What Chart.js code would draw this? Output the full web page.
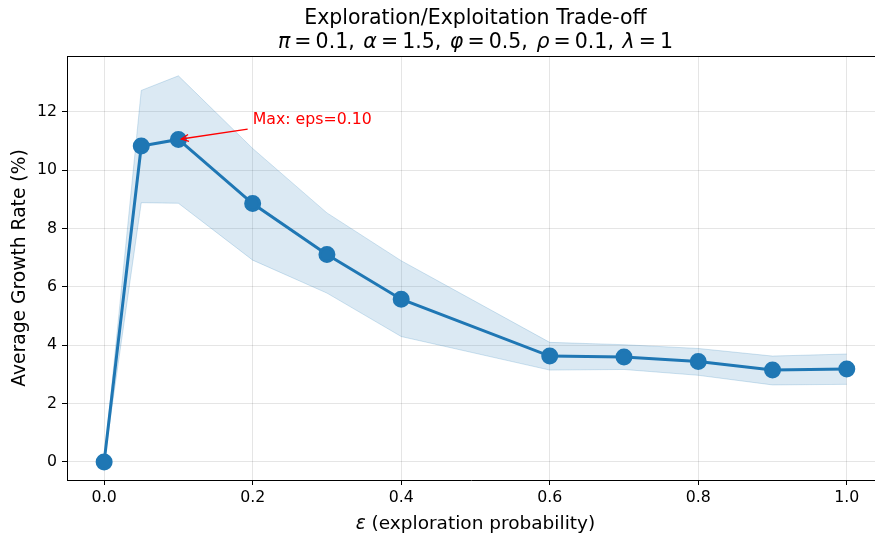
<!DOCTYPE html>
<html>
<head>
<meta charset="utf-8">
<script src="https://cdn.jsdelivr.net/npm/chart.js@4/dist/chart.umd.min.js"></script>
<style>
  body { margin: 0; background: #fff; }
  #wrap { width: 875px; height: 533px; }
</style>
</head>
<body>
<div id="wrap"><canvas id="myChart" width="875" height="533"></canvas></div>
<script>
// values
const epsValues = [0, 0.05, 0.1, 0.2, 0.3, 0.4, 0.6, 0.7, 0.8, 0.9, 1.0];
const growthMean = [0, 10.83, 11.06, 8.86, 7.11, 5.58, 3.63, 3.60, 3.44, 3.15, 3.19];
const growthUpper = [0, 12.74, 13.24, 10.75, 8.54, 6.90, 4.10, 4.02, 3.89, 3.63, 3.70];
const growthLower = [0, 8.89, 8.87, 6.92, 5.79, 4.30, 3.15, 3.17, 2.97, 2.64, 2.66];
const xTicks = [0, 0.2, 0.4, 0.6, 0.8, 1.0];
const yTicks = [0, 2, 4, 6, 8, 10, 12];
const maxEps = 0.1, maxGrowth = 11.06;

const FONT = "'DejaVu Sans', sans-serif";
const blue = '#1f77b4';
const TS = '\u2009';

function toPoints(ys) {
  return epsValues.map((e, i) => ({ x: e, y: ys[i] }));
}

// draws a line of text made of plain and italic pieces, centred at cx
function drawPieces(ctx, pieces, cx, y, size) {
  let total = 0;
  pieces.forEach(p => {
    ctx.font = (p[1] ? 'oblique ' : '') + size + 'px ' + FONT;
    total += ctx.measureText(p[0]).width;
  });
  let x = cx - total / 2;
  ctx.textAlign = 'left';
  pieces.forEach(p => {
    ctx.font = (p[1] ? 'oblique ' : '') + size + 'px ' + FONT;
    ctx.fillText(p[0], x, y);
    x += ctx.measureText(p[0]).width;
  });
}

const decor = {
  id: 'decor',
  afterDraw(chart) {
    const ctx = chart.ctx;
    const xs = chart.scales.x, ys = chart.scales.y;
    const area = chart.chartArea;
    ctx.save();
    // top spine
    ctx.strokeStyle = '#000';
    ctx.lineWidth = 1;
    ctx.beginPath();
    ctx.moveTo(area.left, area.top + 0.5);
    ctx.lineTo(area.right, area.top + 0.5);
    ctx.stroke();

    // titles
    const cx = xs.getPixelForValue(0.5);
    ctx.fillStyle = '#000';
    ctx.textBaseline = 'alphabetic';
    ctx.textAlign = 'center';
    ctx.font = '20.5px ' + FONT;
    ctx.fillText('Exploration/Exploitation Trade-off', cx, 24);
    const eq = TS + '=' + TS;
    const sep = ', \u200A';
    drawPieces(ctx, [
      ['π', true], [eq + '0.1' + sep, false],
      ['α', true], [eq + '1.5' + sep, false],
      ['φ', true], [eq + '0.5' + sep, false],
      ['ρ', true], [eq + '0.1' + sep, false],
      ['λ', true], [eq + '1', false]
    ], cx, 48, 20.5);

    // axis labels
    drawPieces(ctx, [['ε', true], [' (exploration probability)', false]], cx, 529, 18.5);
    ctx.save();
    ctx.translate(25, (area.top + area.bottom) / 2);
    ctx.rotate(-Math.PI / 2);
    ctx.textAlign = 'center';
    ctx.font = '18.7px ' + FONT;
    ctx.fillText('Average Growth Rate (%)', 0, 0);
    ctx.restore();

    // annotation with arrow
    const tx = xs.getPixelForValue(0.2), ty = ys.getPixelForValue(11.72);
    ctx.fillStyle = 'red';
    ctx.font = '15.75px ' + FONT;
    ctx.textAlign = 'left';
    ctx.textBaseline = 'middle';
    ctx.fillText('Max: eps=0.10', tx, ty);
    const px = xs.getPixelForValue(maxEps), py = ys.getPixelForValue(maxGrowth);
    const sx = tx - 5, sy = ty + 9;
    const ang = Math.atan2(sy - py, sx - px);
    const ex = px + Math.cos(ang) * 3, ey = py + Math.sin(ang) * 3;
    ctx.strokeStyle = 'red';
    ctx.lineWidth = 1.4;
    ctx.beginPath();
    ctx.moveTo(sx, sy);
    ctx.lineTo(ex, ey);
    ctx.stroke();
    ctx.beginPath();
    ctx.moveTo(ex + Math.cos(ang + 0.45) * 8, ey + Math.sin(ang + 0.45) * 8);
    ctx.lineTo(ex, ey);
    ctx.lineTo(ex + Math.cos(ang - 0.45) * 8, ey + Math.sin(ang - 0.45) * 8);
    ctx.stroke();
    ctx.restore();
  }
};

const data = {
  datasets: [
    {
      label: 'mean',
      data: toPoints(growthMean),
      borderColor: blue,
      backgroundColor: blue,
      borderWidth: 3,
      pointRadius: 7,
      pointHoverRadius: 7,
      pointBackgroundColor: blue,
      pointBorderColor: blue,
      fill: false,
      tension: 0
    },
    {
      label: 'upper',
      data: toPoints(growthUpper),
      borderColor: 'rgba(31,119,180,0.2)',
      backgroundColor: 'rgba(31,119,180,0.16)',
      borderWidth: 1,
      pointRadius: 0,
      fill: '+1',
      tension: 0
    },
    {
      label: 'lower',
      data: toPoints(growthLower),
      borderColor: 'rgba(31,119,180,0.2)',
      borderWidth: 1,
      pointRadius: 0,
      fill: false,
      tension: 0
    }
  ]
};

const config = {
  type: 'line',
  data: data,
  options: {
    responsive: false,
    animation: false,
    layout: { autoPadding: false, padding: { top: 56, left: 0, right: 0, bottom: 0 } },
    plugins: {
      legend: { display: false },
      tooltip: { enabled: false }
    },
    scales: {
      x: {
        type: 'linear',
        min: -0.05,
        max: 1.038,
        afterFit(scale) { scale.height = 53; scale.paddingRight = 0; scale.paddingLeft = 0; },
        afterBuildTicks(scale) { scale.ticks = xTicks.map(v => ({ value: v })); },
        ticks: {
          color: '#000',
          font: { family: FONT, size: 15.75 },
          padding: 3,
          maxRotation: 0,
          callback: v => v.toFixed(1)
        },
        grid: { color: 'rgba(0,0,0,0.1)', tickColor: '#000', tickLength: 5 },
        border: { color: '#000', width: 1 }
      },
      y: {
        min: -0.62,
        max: 13.92,
        afterFit(scale) { scale.width = 67; },
        afterBuildTicks(scale) { scale.ticks = yTicks.map(v => ({ value: v })); },
        ticks: {
          color: '#000',
          font: { family: FONT, size: 15.75 },
          padding: 5,
          callback: v => String(v)
        },
        grid: { color: 'rgba(0,0,0,0.1)', tickColor: '#000', tickLength: 5 },
        border: { color: '#000', width: 1 }
      }
    }
  },
  plugins: [decor]
};

const myChart = new Chart(document.getElementById('myChart'), config);
</script>
</body>
</html>
